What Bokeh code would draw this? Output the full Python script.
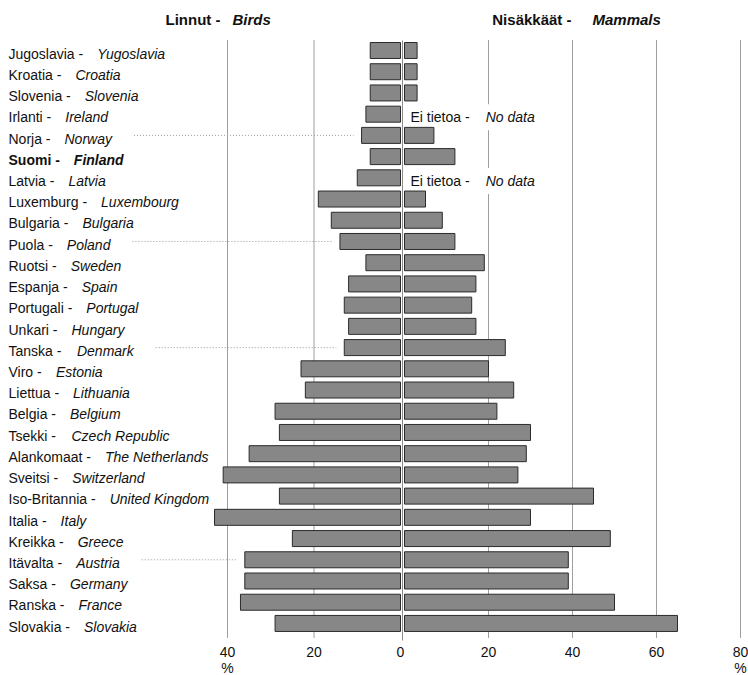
from bokeh.plotting import figure
from bokeh.models import Range1d, ColumnDataSource
from bokeh.core.properties import value
from bokeh.embed import file_html
from bokeh.resources import INLINE

# ---------------- data ----------------
fi_names = ["Jugoslavia", "Kroatia", "Slovenia", "Irlanti", "Norja", "Suomi", "Latvia",
            "Luxemburg", "Bulgaria", "Puola", "Ruotsi", "Espanja", "Portugali", "Unkari",
            "Tanska", "Viro", "Liettua", "Belgia", "Tsekki", "Alankomaat", "Sveitsi",
            "Iso-Britannia", "Italia", "Kreikka", "Itävalta", "Saksa", "Ranska", "Slovakia"]
en_names = ["Yugoslavia", "Croatia", "Slovenia", "Ireland", "Norway", "Finland", "Latvia",
            "Luxembourg", "Bulgaria", "Poland", "Sweden", "Spain", "Portugal", "Hungary",
            "Denmark", "Estonia", "Lithuania", "Belgium", "Czech Republic", "The Netherlands",
            "Switzerland", "United Kingdom", "Italy", "Greece", "Austria", "Germany", "France",
            "Slovakia"]
birds = [7, 7, 7, 8, 9, 7, 10, 19, 16, 14, 8, 12, 13, 12, 13, 23, 22, 29, 28, 35, 41,
         28, 43, 25, 36, 36, 37, 29]
mammals = [3, 3, 3, None, 7, 12, None, 5, 9, 12, 19, 17, 16, 17, 24, 20, 26, 22, 30, 29,
           27, 45, 30, 49, 39, 39, 50, 65]
highlight = "Suomi"
birds_ticks = [40, 20, 0]
mammal_ticks = [20, 40, 60, 80]
birds_title = ("Linnut -", "Birds")
mammals_title = ("Nisäkkäät -", "Mammals")
no_data_text = ("Ei tietoa -", "No data")
unit_label = "%"

# ---------------- text metrics (Liberation Sans == Arial widths) ----------------
REG = {' ': 278, '-': 333, 'A': 667, 'B': 667, 'C': 722, 'D': 722, 'E': 667, 'F': 611,
       'G': 778, 'H': 722, 'I': 278, 'J': 500, 'K': 667, 'L': 556, 'M': 833, 'N': 722,
       'O': 778, 'P': 667, 'R': 722, 'S': 667, 'T': 611, 'U': 722, 'V': 667, 'Y': 667,
       'a': 556, 'b': 556, 'c': 500, 'd': 556, 'e': 556, 'f': 278, 'g': 556, 'h': 556,
       'i': 222, 'j': 222, 'k': 500, 'l': 222, 'm': 833, 'n': 556, 'o': 556, 'p': 556,
       'r': 333, 's': 500, 't': 278, 'u': 556, 'v': 500, 'w': 722, 'x': 500, 'y': 500,
       'z': 500, 'ä': 556}
BOLD = {' ': 278, '-': 333, 'S': 667, 'u': 611, 'o': 611, 'm': 889, 'i': 278, 'N': 722,
        's': 556, 'ä': 556, 'k': 556, 't': 333, 'L': 611, 'n': 611}


def text_width(s, size, bold=False):
    tab = BOLD if bold else REG
    return sum(tab.get(ch, REG.get(ch, 556) * (1.05 if bold else 1.0)) for ch in s) * size / 1000.0


FONT = "Liberation Sans"
FS = 14
W, H = 748, 675

# layout of scales (pixels inside figure)
b0_px, b_scale = 400.0, 4.325      # birds: 0 at 400 px, growing to the left
m0_px, m_scale = 404.0, 4.2        # mammals: 0 at 404 px, growing to the right
row0_px, row_step = 50.0, 21.22    # first row centre and row pitch
left_px = 8.0

n = len(fi_names)
rows = list(range(n))

p = figure(width=W, height=H,
           x_range=Range1d(-m0_px / m_scale, (W - m0_px) / m_scale),
           y_range=Range1d((H - row0_px) / row_step, -row0_px / row_step),
           output_backend="svg", toolbar_location=None, min_border=0,
           x_axis_location=None, y_axis_location=None, outline_line_color=None)
p.grid.visible = False
p.extra_x_ranges = {"birds": Range1d(b0_px / b_scale, -(W - b0_px) / b_scale),
                    "px": Range1d(0, W)}


def ry(px):
    return (px - row0_px) / row_step


grid_top, grid_bot = ry(40), ry(638)
tick_y, unit_y, head_y = ry(651), ry(667), ry(18.5)
lab_dy = 0.15

grid_kw = dict(line_color="#3c3c3c", line_width=1, line_dash="1 1")
bg = [t for t in birds_ticks if t != 0]
p.segment(x0=bg, x1=bg, y0=[grid_top] * len(bg), y1=[grid_bot] * len(bg),
          x_range_name="birds", **grid_kw)
p.segment(x0=mammal_ticks, x1=mammal_ticks, y0=[grid_top] * len(mammal_ticks),
          y1=[grid_bot] * len(mammal_ticks), **grid_kw)

# centre (zero) line
cx = (b0_px + m0_px) / 2
p.segment(x0=[cx], x1=[cx], y0=[grid_top], y1=[ry(640)], x_range_name="px",
          line_color="#8a8a8a", line_width=1)

# labels geometry
is_hl = [f == highlight for f in fi_names]
fi_txt = [f + " -" for f in fi_names]
gap = 14
en_x = [left_px + text_width(t, FS, b) + gap for t, b in zip(fi_txt, is_hl)]

# leader lines every fifth row where room allows
lx0, lx1, ly = [], [], []
for i in rows:
    if (i + 1) % 5 == 0:
        start = en_x[i] + text_width(en_names[i], FS, is_hl[i]) + 22
        end = b0_px - birds[i] * b_scale - 8
        if end - start > 20:
            lx0.append(start); lx1.append(end); ly.append(i)
p.segment(x0=lx0, x1=lx1, y0=ly, y1=ly, x_range_name="px",
          line_color="#9a9a9a", line_width=1, line_dash="1 2")

# bars
bar_kw = dict(height=0.754, fill_color="#878787", line_color="#2b2b2b", line_width=1)
src_b = ColumnDataSource(dict(y=rows, v=birds))
p.hbar(y="y", left=0, right="v", source=src_b, x_range_name="birds", **bar_kw)
src_m = ColumnDataSource(dict(y=[i for i in rows if mammals[i] is not None],
                              v=[m for m in mammals if m is not None]))
p.hbar(y="y", left=0, right="v", source=src_m, **bar_kw)

# country labels
txt_kw = dict(text_font=value(FONT), text_font_size=f"{FS}px", text_color="#111111",
              text_baseline="middle", text_align="left", x_range_name="px")
for hl in (False, True):
    idx = [i for i in rows if is_hl[i] == hl]
    p.text(x=[left_px] * len(idx), y=[i + lab_dy for i in idx], text=[fi_txt[i] for i in idx],
           text_font_style="bold" if hl else "normal", **txt_kw)
    p.text(x=[en_x[i] for i in idx], y=[i + lab_dy for i in idx],
           text=[en_names[i] for i in idx],
           text_font_style="bold italic" if hl else "italic", **txt_kw)

# no-data notes
nd = [i for i in rows if mammals[i] is None]
nd_x0 = m0_px + 6
nd_x1 = nd_x0 + text_width(no_data_text[0], FS) + 11
p.text(x=[nd_x0] * len(nd), y=[i + lab_dy for i in nd], text=[no_data_text[0]] * len(nd),
       text_font_style="normal", **txt_kw)
p.text(x=[nd_x1] * len(nd), y=[i + lab_dy for i in nd], text=[no_data_text[1]] * len(nd),
       text_font_style="italic", background_fill_color="white", padding=5, **txt_kw)

# headers
hd_kw = dict(text_font=value(FONT), text_font_size="15px", text_color="#111111",
             text_baseline="middle", x_range_name="px")
p.text(x=[220], y=[head_y], text=[birds_title[0]], text_align="right",
       text_font_style="bold", **hd_kw)
p.text(x=[232], y=[head_y], text=[birds_title[1]], text_align="left",
       text_font_style="bold italic", **hd_kw)
p.text(x=[571], y=[head_y], text=[mammals_title[0]], text_align="right",
       text_font_style="bold", **hd_kw)
p.text(x=[592], y=[head_y], text=[mammals_title[1]], text_align="left",
       text_font_style="bold italic", **hd_kw)

# tick labels
tk_kw = dict(text_font=value(FONT), text_font_size="14px", text_color="#111111",
             text_baseline="middle", text_align="center")
p.text(x=birds_ticks, y=[tick_y] * len(birds_ticks), text=[str(t) for t in birds_ticks],
       x_range_name="birds", **tk_kw)
p.text(x=mammal_ticks, y=[tick_y] * len(mammal_ticks),
       text=[str(t) for t in mammal_ticks], **tk_kw)
p.text(x=[birds_ticks[0]], y=[unit_y], text=[unit_label], x_range_name="birds", **tk_kw)
p.text(x=mammal_ticks[-1:], y=[unit_y], text=[unit_label], **tk_kw)

open("out.html", "w").write(file_html(p, INLINE))
